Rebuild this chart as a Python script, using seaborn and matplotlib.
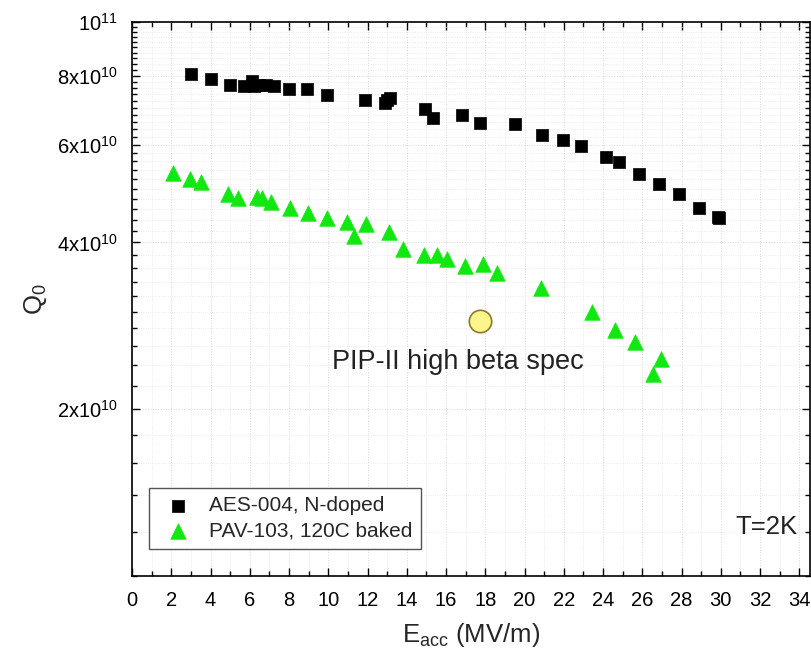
"""
Q0 vs. Eacc fuer zwei Kavitaeten (N-doped vs. 120C baked) mit PIP-II Spezifikation.
"""

import numpy as np
import pandas as pd
import matplotlib
matplotlib.use("Agg")
import matplotlib.pyplot as plt
from matplotlib.ticker import FixedLocator, MultipleLocator, FixedFormatter, NullFormatter
import seaborn as sns

# Daten
aes_eacc = [3.03, 4.0, 4.97, 5.69, 6.13, 6.24, 6.46, 6.84, 7.22, 7.98, 8.9, 9.95,
            11.86, 12.88, 13.0, 13.16, 14.92, 15.33, 16.82, 17.75, 19.53, 20.88,
            21.98, 22.86, 24.13, 24.8, 25.82, 26.85, 27.85, 28.88, 29.85, 29.93]
aes_q0 = [8.04e10, 7.88e10, 7.69e10, 7.65e10, 7.82e10, 7.65e10, 7.69e10, 7.69e10,
          7.65e10, 7.58e10, 7.58e10, 7.39e10, 7.24e10, 7.15e10, 7.22e10, 7.30e10,
          6.96e10, 6.70e10, 6.78e10, 6.58e10, 6.54e10, 6.24e10, 6.12e10, 5.96e10,
          5.70e10, 5.59e10, 5.31e10, 5.09e10, 4.89e10, 4.61e10, 4.45e10, 4.43e10]

pav_eacc = [2.10, 2.94, 3.49, 4.89, 5.40, 6.36, 6.60, 7.09, 8.07, 8.96, 9.92, 10.95,
            11.32, 11.90, 13.10, 13.81, 14.87, 15.55, 16.06, 16.99, 17.87, 18.59,
            20.85, 23.42, 24.60, 25.62, 26.97, 26.55]
pav_q0 = [5.33e10, 5.20e10, 5.15e10, 4.90e10, 4.81e10, 4.83e10, 4.81e10, 4.74e10,
          4.61e10, 4.53e10, 4.43e10, 4.35e10, 4.11e10, 4.31e10, 4.18e10, 3.89e10,
          3.80e10, 3.80e10, 3.73e10, 3.62e10, 3.66e10, 3.52e10, 3.31e10, 3.00e10,
          2.78e10, 2.65e10, 2.46e10, 2.32e10]

spec_eacc = [17.75]
spec_q0 = [2.88e10]

aes_label = "AES-004, N-doped"
pav_label = "PAV-103, 120C baked"
spec_text = "PIP-II high beta spec"
temp_text = "T=2K"

y_major = [2e10, 4e10, 6e10, 8e10, 1e11]
y_major_labels = [r"2x10$^{10}$", r"4x10$^{10}$", r"6x10$^{10}$", r"8x10$^{10}$", r"10$^{11}$"]

aes = pd.DataFrame({"Eacc": aes_eacc, "Q0": aes_q0})
pav = pd.DataFrame({"Eacc": pav_eacc, "Q0": pav_q0})
spec = pd.DataFrame({"Eacc": spec_eacc, "Q0": spec_q0})

sns.set_style("ticks")
plt.rcParams["font.family"] = ["Liberation Sans", "DejaVu Sans"]
plt.rcParams["mathtext.fontset"] = "custom"
plt.rcParams["mathtext.rm"] = "Liberation Sans"
plt.rcParams["mathtext.it"] = "Liberation Sans"

fig = plt.figure(figsize=(8.12, 6.58), dpi=100)
ax = fig.add_axes([0.1626, 0.1246, 0.835, 0.842])

sns.scatterplot(data=aes, x="Eacc", y="Q0", marker="s", color="black", s=75,
                edgecolor="black", linewidth=0.5, label=aes_label, ax=ax, zorder=3)
sns.scatterplot(data=pav, x="Eacc", y="Q0", marker="^", color="#11e811", s=125,
                edgecolor="#11e811", linewidth=0.5, label=pav_label, ax=ax, zorder=3)
sns.scatterplot(data=spec, x="Eacc", y="Q0", marker="o", color="#fbf58a", s=260,
                edgecolor="#8a7a30", linewidth=1.2, ax=ax, zorder=3, legend=False)

ax.set_yscale("log")
ax.set_xlim(0, 34.55)
ax.set_ylim(1e10, 1e11)

ax.xaxis.set_major_locator(MultipleLocator(2))
ax.xaxis.set_minor_locator(MultipleLocator(1))
ax.yaxis.set_major_locator(FixedLocator(y_major))
ax.yaxis.set_major_formatter(FixedFormatter(y_major_labels))
y_minor = [v for v in np.arange(1.0e10, 1.0001e11, 2e9) if min(abs(v - m) for m in y_major) > 1e8]
ax.yaxis.set_minor_locator(FixedLocator(y_minor))
ax.yaxis.set_minor_formatter(NullFormatter())

ax.tick_params(which="both", direction="in", top=True, right=True, width=1.0,
               labelsize=14.5, colors="black")
ax.tick_params(which="major", length=6)
ax.tick_params(which="minor", length=3.5)
ax.tick_params(axis="x", which="major", pad=11)
ax.tick_params(axis="y", which="major", pad=10)

ax.grid(which="major", color="#d8d8d8", linewidth=0.7, linestyle=":")
ax.grid(which="minor", color="#e6e6e6", linewidth=0.6, linestyle=":")
ax.set_axisbelow(True)
for sp in ax.spines.values():
    sp.set_linewidth(1.2)
    sp.set_color("black")

ax.set_xlabel(r"E$_{acc}$ (MV/m)", fontsize=18.5, labelpad=8)
ax.set_ylabel(r"Q$_0$", fontsize=18.5, labelpad=6)

ax.text(10.2, 2.43e10, spec_text, fontsize=19.5, va="center", ha="left", color="#222222")
ax.text(0.982, 0.088, temp_text, transform=ax.transAxes, fontsize=18.5,
        ha="right", va="center", color="#222222")

leg = ax.legend(loc="lower left", bbox_to_anchor=(0.025, 0.049), borderaxespad=0,
                fontsize=15, frameon=True, fancybox=False, edgecolor="#555555",
                framealpha=1, handletextpad=0.5, borderpad=0.4, labelspacing=0.3,
                markerscale=1.0)
leg.get_frame().set_linewidth(1.0)

fig.savefig("out.png", dpi=100)
